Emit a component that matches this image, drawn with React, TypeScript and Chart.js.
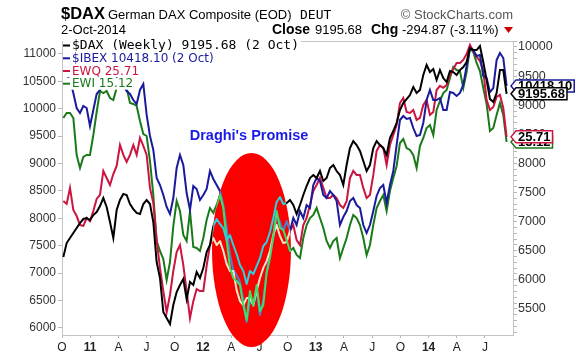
import { useEffect, useRef } from "react";
import { Chart, registerables } from "chart.js";

Chart.register(...registerables);

// ---- axis / tick data ----
const quarterLabels = ["O", "11", "A", "J", "O", "12", "A", "J", "O", "13", "A", "J", "O", "14", "A", "J"];
const quarterMonths = [0, 3, 6, 9, 12, 15, 18, 21, 24, 27, 30, 33, 36, 39, 42, 45]; // months since Oct 2010
const leftTickValues = [6000, 6500, 7000, 7500, 8000, 8500, 9000, 9500, 10000, 10500, 11000];
const rightTickValues = [5500, 6000, 6500, 7000, 7500, 8000, 8500, 9000, 9500, 10000];
const rightMinorStep = 100;

// sample dates: months since 1-Oct-2010
const sampleStartMonth = 0.1416;
const sampleStepMonths = 0.3546;

// ---- series values ----
const daxValues = [
  6392, 6632, 6718, 6804, 6890, 6976, 7045, 7062, 7027, 7113,
  7165, 7268, 7405, 7251, 6993, 6718, 7199, 7371, 7474, 7457,
  7302, 7216, 7148, 7130, 7302, 7371, 7302, 6993, 6306, 6031,
  5447, 5344, 5241, 5567, 5790, 5911, 6014, 5670, 5962, 5911,
  6134, 6031, 6203, 6478, 6598, 6924, 7045, 6959, 6890, 6684,
  6770, 6598, 6443, 6254, 6151, 5928, 6151, 6100, 6237, 6375,
  6581, 6649, 6821, 7062, 7337, 7423, 7302, 7319, 7371, 7285,
  7130, 7285, 7457, 7612, 7749, 7800, 7749, 7869, 7697, 7749,
  7921, 7972, 7869, 7800, 7629, 7972, 8264, 8385, 8316, 8213,
  8041, 7869, 7972, 8264, 8385, 8316, 8264, 8144, 8436, 8556,
  8694, 8917, 9037, 9106, 9175, 9312, 9209, 9261, 9518, 9690,
  9570, 9622, 9433, 9604, 9467, 9398, 9587, 9570, 9518, 9604,
  9656, 9742, 9982, 9948, 9948, 10017, 9742, 9433, 9106, 9055,
  9209, 9604, 9604, 9195.68,
];

const ibexValues = [
  10708, 10617, 10526, 10288, 10014, 9923, 10051, 10014, 9686, 9978,
  10270, 10343, 10434, 10379, 10526, 10452, 10562, 10489, 10416, 10325,
  10270, 10160, 10087, 10343, 10452, 9887, 9503, 9248, 8737, 8609,
  8427, 8208, 8080, 8372, 8919, 9157, 8974, 8463, 8153, 8591,
  8536, 8335, 8427, 8536, 8865, 8719, 8609, 8500, 8244, 7825,
  7332, 7058, 6967, 6839, 6510, 6109, 6510, 6419, 6693, 6237,
  6510, 7021, 7332, 7642, 8062, 7934, 7770, 7952, 7770, 8007,
  7879, 8135, 8007, 8244, 8190, 8609, 8737, 8682, 8427, 8372,
  8500, 8427, 8317, 7879, 8025, 8135, 8317, 8372, 8244, 8190,
  7879, 7733, 7879, 8135, 8409, 8554, 8609, 8281, 8609, 8865,
  9339, 9795, 9868, 9814, 9832, 9649, 9503, 9522, 9741, 10160,
  10343, 10160, 10160, 10197, 9978, 9978, 10306, 10288, 10233, 10288,
  10434, 10781, 11109, 11073, 10963, 10982, 10598, 10562, 10306, 10379,
  10890, 11018, 10927, 10418.1,
];

const ewqValues = [
  22.79, 22.66, 23.39, 22.39, 22.11, 21.70, 21.66, 22.02, 21.88, 22.34,
  22.89, 23.07, 24.16, 23.84, 23.52, 24.02, 24.39, 25.34, 24.89, 24.57,
  24.89, 25.34, 24.89, 25.66, 25.30, 24.89, 23.39, 22.70, 21.02, 19.75,
  18.70, 17.74, 18.52, 19.61, 20.47, 20.79, 19.88, 18.70, 17.47, 18.24,
  18.79, 18.70, 18.70, 19.84, 20.79, 21.11, 20.79, 20.97, 20.52, 19.93,
  19.61, 19.61, 18.74, 18.24, 18.06, 18.38, 18.38, 18.06, 18.70, 19.29,
  19.75, 20.06, 20.52, 21.25, 21.70, 21.20, 20.88, 20.93, 21.43, 21.70,
  21.02, 20.79, 21.70, 22.02, 22.61, 23.25, 23.52, 23.84, 23.39, 22.93,
  22.93, 23.07, 22.93, 22.61, 22.48, 22.79, 23.84, 24.16, 23.98, 23.98,
  23.39, 22.93, 23.07, 23.98, 25.07, 25.34, 25.21, 24.43, 25.34, 25.80,
  26.25, 27.25, 27.48, 26.84, 26.80, 26.93, 26.48, 26.57, 27.16, 27.39,
  26.71, 26.84, 27.84, 28.03, 27.94, 28.07, 28.53, 28.80, 29.07, 29.07,
  29.21, 29.48, 29.89, 29.62, 29.35, 29.16, 28.71, 27.39, 26.93, 27.07,
  27.53, 27.62, 27.03, 25.71,
];

const ewiValues = [
  15.84, 15.99, 15.99, 15.84, 14.73, 14.34, 14.67, 14.73, 14.73, 15.33,
  16.02, 16.65, 16.59, 16.65, 16.44, 16.38, 16.74, 16.80, 16.86, 16.74,
  16.29, 16.26, 16.20, 15.75, 15.36, 15.30, 14.55, 13.53, 12.15, 11.85,
  11.61, 10.98, 11.52, 12.60, 13.35, 13.05, 12.33, 12.15, 13.05, 11.97,
  11.94, 11.85, 12.24, 12.78, 13.14, 12.99, 13.23, 13.53, 13.14, 12.18,
  11.34, 11.04, 10.95, 10.83, 10.23, 9.78, 10.65, 10.20, 10.83, 10.05,
  10.23, 11.19, 11.64, 12.30, 13.05, 12.54, 12.48, 12.18, 11.85, 11.94,
  11.73, 11.64, 12.24, 12.63, 12.84, 12.93, 13.14, 12.84, 12.54, 12.15,
  11.94, 12.15, 12.24, 11.64, 11.94, 12.24, 12.63, 12.93, 12.84, 12.63,
  12.24, 11.73, 12.03, 12.63, 13.14, 13.35, 13.53, 13.05, 13.65, 14.04,
  14.40, 15.09, 15.21, 14.94, 14.88, 14.73, 14.34, 15.00, 15.24, 15.54,
  15.63, 15.33, 16.08, 16.35, 16.59, 16.68, 17.04, 17.37, 17.28, 17.25,
  16.74, 17.22, 17.94, 17.82, 17.49, 17.25, 16.74, 16.26, 15.45, 15.54,
  15.93, 16.29, 15.93, 15.12,
];

const legendTexts = ["$DAX (Weekly) 9195.68 (2 Oct)", "$IBEX 10418.10 (2 Oct)", "EWQ 25.71", "EWI 15.12"];
const tagTexts = ["9195.68", "10418.10", "25.71", "15.12"];

// annotation (months / IBEX-axis level)
const ellipseMonth = 20.16;
const ellipseLevel = 7423;
const ellipseHalfMonths = 4.2;
const ellipseHalfLevel = 1770;
const noteMonth = 19.9;
const noteLevel = 9503;
const noteText = "Draghi's Promise";

const FONT = '"Liberation Sans", Arial, sans-serif';
const lineColors = ["#000000", "#1a1a9c", "#cc1440", "#1a7a1a"];
const insideColors = ["#26d4e0", "#4f7fcc", "#f4e8cc", "#3ae06a"];
const axisIds = ["yR", "yL", "yQ", "yI"];

const toPoints = (vals: number[]) =>
  vals.map((v, i) => ({ x: sampleStartMonth + sampleStepMonths * i, y: v }));

const overlayPlugin = {
  id: "overlays",
  beforeDatasetsDraw(chart: any) {
    const { ctx, chartArea: a } = chart;
    ctx.save();
    ctx.strokeStyle = "#c4c4c4";
    ctx.lineWidth = 1;
    ctx.strokeRect(a.left + 0.5, a.top + 0.5, a.right - a.left - 1, a.bottom - a.top);
    ctx.restore();
  },
  afterDatasetsDraw(chart: any) {
    const { ctx } = chart;
    const xs = chart.scales.x;
    const ys = chart.scales.yL;
    const cx = xs.getPixelForValue(ellipseMonth);
    const cy = ys.getPixelForValue(ellipseLevel);
    const rx = Math.abs(xs.getPixelForValue(ellipseMonth + ellipseHalfMonths) - cx);
    const ry = Math.abs(ys.getPixelForValue(ellipseLevel + ellipseHalfLevel) - cy);
    ctx.save();
    ctx.beginPath();
    ctx.ellipse(cx, cy, rx, ry, 0, 0, Math.PI * 2);
    ctx.fillStyle = "#fc0000";
    ctx.fill();
    ctx.clip();
    [1, 2, 3, 0].forEach((i) => {
      const pts = chart.getDatasetMeta(i).data;
      ctx.beginPath();
      pts.forEach((p: any, j: number) => (j ? ctx.lineTo(p.x, p.y) : ctx.moveTo(p.x, p.y)));
      ctx.strokeStyle = insideColors[i];
      ctx.lineWidth = 2;
      ctx.lineJoin = "round";
      ctx.stroke();
    });
    ctx.restore();

    ctx.save();
    ctx.font = `bold 14.5px ${FONT}`;
    ctx.fillStyle = "#1a1ae6";
    ctx.textAlign = "center";
    ctx.textBaseline = "middle";
    ctx.fillText(noteText, xs.getPixelForValue(noteMonth), ys.getPixelForValue(noteLevel));
    ctx.restore();
  },
  afterDraw(chart: any) {
    const { ctx } = chart;
    ctx.save();
    // header row 1
    ctx.textBaseline = "alphabetic";
    ctx.fillStyle = "#000";
    ctx.font = `bold 16.5px ${FONT}`;
    ctx.fillText("$DAX", 61, 19);
    ctx.font = `13px ${FONT}`;
    ctx.fillText("German DAX Composite (EOD)", 108, 19);
    ctx.font = `13px "DejaVu Sans Mono", monospace`;
    ctx.fillText("DEUT", 300, 19);
    ctx.fillStyle = "#555";
    ctx.font = `13px ${FONT}`;
    ctx.textAlign = "right";
    ctx.fillText("\u00A9 StockCharts.com", 513, 19);
    ctx.textAlign = "left";
    // header row 2
    ctx.fillStyle = "#000";
    ctx.font = `13px ${FONT}`;
    ctx.fillText("2-Oct-2014", 61, 34);
    ctx.font = `bold 14px ${FONT}`;
    ctx.fillText("Close", 272, 34);
    ctx.font = `13px ${FONT}`;
    ctx.fillText("9195.68", 315, 34);
    ctx.font = `bold 14px ${FONT}`;
    ctx.fillText("Chg", 371, 34);
    ctx.font = `13px ${FONT}`;
    ctx.fillText("-294.87 (-3.11%)", 402, 34);
    ctx.fillStyle = "#cc0000";
    ctx.beginPath();
    ctx.moveTo(504, 27);
    ctx.lineTo(513, 27);
    ctx.lineTo(508.5, 33);
    ctx.closePath();
    ctx.fill();

    // legend
    const rowY = [45.5, 58.3, 71, 83.7];
    legendTexts.forEach((t, i) => {
      ctx.font = i === 0 ? `13px "DejaVu Sans Mono", monospace` : `12px "DejaVu Sans", sans-serif`;
      const w = ctx.measureText(t).width;
      ctx.fillStyle = "#fff";
      ctx.fillRect(63, rowY[i] - 6, w + 11, 12);
      ctx.fillStyle = lineColors[i];
      ctx.fillRect(63, rowY[i] - 1, 7, 2);
      ctx.textBaseline = "middle";
      ctx.fillText(t, 72, rowY[i] + 0.5);
    });

    // price tags at right edge, drawn lower ones first
    const drawTag = (i: number) => {
      const ds = chart.data.datasets[i];
      const last = ds.data[ds.data.length - 1].y;
      const y = chart.scales[axisIds[i]].getPixelForValue(last);
      ctx.font = `bold 13px ${FONT}`;
      const w = ctx.measureText(tagTexts[i]).width;
      const tip = 511;
      const body = 516;
      const h = 12;
      ctx.beginPath();
      ctx.moveTo(tip, y);
      ctx.lineTo(body, y - h / 2);
      ctx.lineTo(body + w + 4, y - h / 2);
      ctx.lineTo(body + w + 4, y + h / 2);
      ctx.lineTo(body, y + h / 2);
      ctx.closePath();
      ctx.fillStyle = "#fff";
      ctx.fill();
      ctx.lineWidth = 1.5;
      ctx.strokeStyle = lineColors[i];
      ctx.stroke();
      ctx.fillStyle = "#000";
      ctx.textBaseline = "middle";
      ctx.fillText(tagTexts[i], body + 2, y + 0.5);
    };
    [1, 0, 3, 2].forEach(drawTag);
    ctx.restore();
  },
};

const rightAllTicks: number[] = [];
for (let v = 5100; v <= 10100; v += rightMinorStep) rightAllTicks.push(v);

export default function App() {
  const ref = useRef<HTMLCanvasElement>(null);
  useEffect(() => {
    document.body.style.margin = "0";
    const series = [daxValues, ibexValues, ewqValues, ewiValues];
    const chart = new Chart(ref.current as HTMLCanvasElement, {
      type: "line",
      data: {
        datasets: series.map((vals, i) => ({
          label: legendTexts[i],
          data: toPoints(vals),
          yAxisID: axisIds[i],
          borderColor: lineColors[i],
          borderWidth: 2,
          pointRadius: 0,
          tension: 0,
          fill: false,
        })),
      },
      options: {
        animation: false,
        responsive: false,
        devicePixelRatio: 1,
        layout: { padding: { top: 41, left: 0, right: 0, bottom: 0 } },
        plugins: { legend: { display: false }, tooltip: { enabled: false } },
        scales: {
          x: {
            type: "linear",
            min: 0,
            max: 48.09,
            afterBuildTicks: (s: any) => {
              s.ticks = quarterMonths.map((v) => ({ value: v }));
            },
            afterFit: (s: any) => {
              s.height = 21;
            },
            border: { display: false },
            grid: { drawOnChartArea: false, tickLength: 3, color: "#b8b8b8" },
            ticks: {
              autoSkip: false,
              maxRotation: 0,
              padding: 2,
              color: "#222",
              font: (c: any) => ({
                family: FONT,
                size: 12,
                weight: /^\d/.test(quarterLabels[c.index] || "") ? "bold" : "normal",
              }),
              callback: (_v: any, i: number) => quarterLabels[i],
            },
          },
          yL: {
            position: "left",
            min: 5872,
            max: 11237,
            afterBuildTicks: (s: any) => {
              s.ticks = leftTickValues.map((v) => ({ value: v }));
            },
            afterFit: (s: any) => {
              s.width = 62;
            },
            border: { display: false },
            grid: { drawOnChartArea: false, tickLength: 4, color: "#b8b8b8" },
            ticks: {
              autoSkip: false,
              padding: 2,
              color: "#333",
              font: { family: FONT, size: 12 },
              callback: (v: any) => String(v),
            },
          },
          yR: {
            position: "right",
            min: 5052,
            max: 10103,
            afterBuildTicks: (s: any) => {
              s.ticks = rightAllTicks.map((v) => ({ value: v }));
            },
            afterFit: (s: any) => {
              s.width = 62;
            },
            border: { display: false },
            grid: { drawOnChartArea: false, tickLength: 3, color: "#b8b8b8" },
            ticks: {
              autoSkip: false,
              padding: 1,
              color: "#333",
              font: { family: FONT, size: 12.5 },
              callback: (v: any) => (rightTickValues.includes(v) ? String(v) : ""),
            },
          },
          yQ: { display: false, min: 16.7, max: 30.07 },
          yI: { display: false, min: 9.33, max: 18.15 },
        },
      } as any,
      plugins: [overlayPlugin],
    });
    return () => chart.destroy();
  }, []);
  return (
    <div style={{ width: 576, height: 356, background: "#fff" }}>
      <canvas ref={ref} width={576} height={356} style={{ display: "block" }} />
    </div>
  );
}
